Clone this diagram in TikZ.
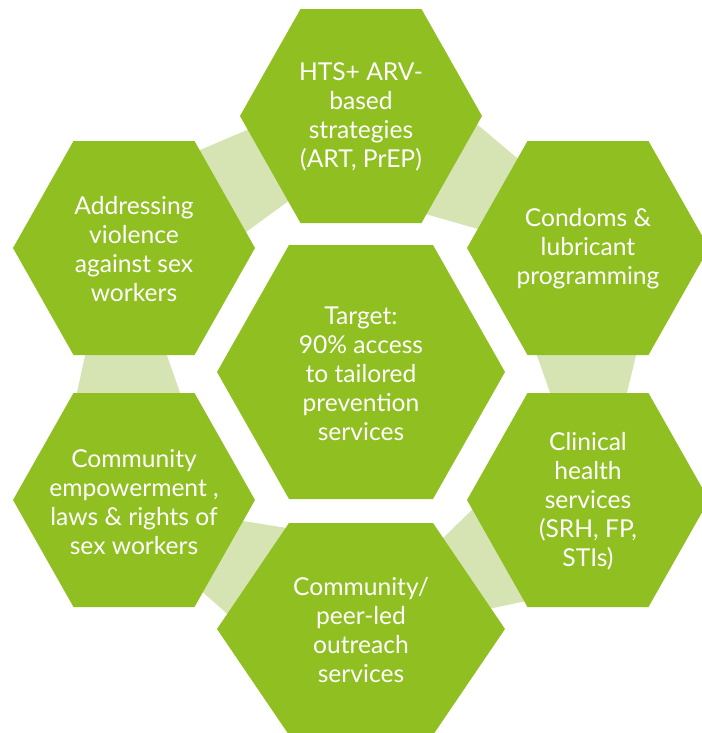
\documentclass[tikz,border=0pt]{standalone}
\usepackage{fontspec}
\setmainfont{Lato}
\usepackage{tikz}
\usetikzlibrary{backgrounds}
\usepackage{xcolor}
\definecolor{leaf}{RGB}{143,191,32}
\definecolor{leafpale}{RGB}{214,228,180}

\begin{document}
\begin{tikzpicture}[x=0.025cm, y=-0.025cm,
    cell/.style={text=white, align=center, inner sep=0pt,
                 font=\fontsize{17.5}{20.6}\selectfont},
    band/.style={fill=leafpale, draw=none},
    hexa/.pic={\fill[leaf] (-1,0) -- (-0.5,-1) -- (0.5,-1) -- (1,0)
                          -- (0.5,1) -- (-0.5,1) -- cycle;},
]
\useasboundingbox (0,0) rectangle (702,733);

% ─── Centre target ───────────────────────────────────────────────
\node[cell] (target) at (361, 374)
    {Target:\\90\% access\\to tailored\\prevention\\services};

% ─── Ring of service areas ───────────────────────────────────────
\node[cell] (hts)      at (361, 117) {HTS+ ARV-\\based\\strategies\\(ART, PrEP)};
\node[cell] (condoms)  at (588, 249) {Condoms \&\\lubricant\\programming};
\node[cell] (clinical) at (588, 501) {Clinical\\health\\services\\(SRH, FP,\\STIs)};
\node[cell] (outreach) at (361, 630) {Community/\\peer-led\\outreach\\services};
\node[cell] (empower)  at (134, 502) {Community\\empowerment ,\\laws \& rights of\\sex workers};
\node[cell] (violence) at (134, 249) {Addressing\\violence\\against sex\\workers};

\begin{scope}[on background layer]
  % pale links between neighbouring cells (only the gap part shows)
  \fill[band] (193,153) -- (254,127) -- (294,197) -- (242,235) -- cycle; % violence - hts
  \fill[band] (472,120) -- (523,163) -- (485,231) -- (422,213) -- cycle; % hts - condoms
  \fill[band] (534,347) -- (638,347) -- (625,401) -- (553,401) -- cycle; % condoms - clinical
  \fill[band] (478,504) -- (438,543) -- (484,610) -- (531,600) -- cycle; % clinical - outreach
  \fill[band] (237,520) -- (293,529) -- (233,619) -- (198,588) -- cycle; % outreach - empower
  \fill[band] (87,347) -- (164,347) -- (183,401) -- (75,401) -- cycle;   % empower - violence

  % hexagons behind the texts
  \pic[xscale=144, yscale=127] at (361, 372) {hexa};
  \pic[xscale=121, yscale=107] at (361, 116) {hexa};
  \pic[xscale=121, yscale=107] at (588, 248) {hexa};
  \pic[xscale=121, yscale=107] at (588, 500) {hexa};
  \pic[xscale=144, yscale=106] at (361, 629) {hexa};
  \pic[xscale=121, yscale=107] at (134, 500) {hexa};
  \pic[xscale=121, yscale=107] at (134, 248) {hexa};
\end{scope}

\end{tikzpicture}
\end{document}
